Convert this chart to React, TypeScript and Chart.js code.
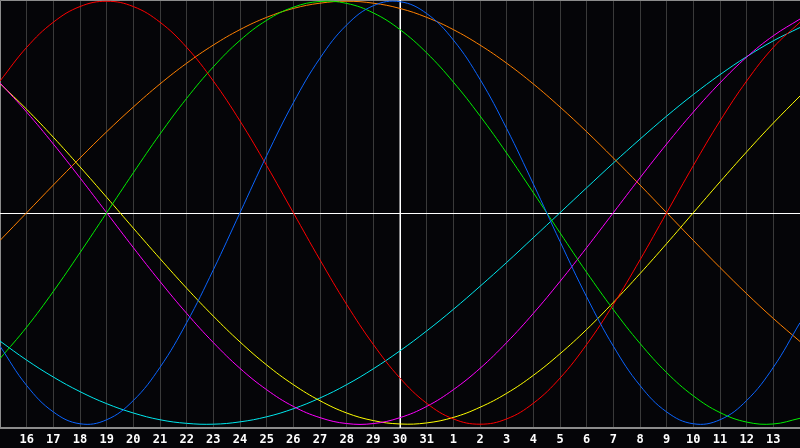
import React, { useEffect, useRef } from "react";
import { Chart, registerables } from "chart.js";

Chart.register(...registerables);

const dayLabels = [
  "15", "16", "17", "18", "19", "20", "21", "22", "23", "24", "25", "26", "27", "28", "29", "30", "31",
  "1", "2", "3", "4", "5", "6", "7", "8", "9", "10", "11", "12", "13", "14",
];

// cycle values (-1 .. 1)
const blue23 = [
  -0.631, -0.817, -0.942, -0.998, -0.979, -0.888, -0.731, -0.52, -0.27, 0, 0.27, 0.52, 0.731, 0.888, 0.979,
  0.998, 0.942, 0.817, 0.631, 0.398, 0.136, -0.136, -0.398, -0.631, -0.817, -0.942, -0.998, -0.979, -0.888,
  -0.731, -0.52,
];
const red28 = [
  0.623, 0.782, 0.901, 0.975, 1.0, 0.975, 0.901, 0.782, 0.623, 0.434, 0.223, 0, -0.223, -0.434, -0.623, -0.782,
  -0.901, -0.975, -1.0, -0.975, -0.901, -0.782, -0.623, -0.434, -0.223, 0, 0.223, 0.434, 0.623, 0.782, 0.901,
];
const green33 = [
  -0.69, -0.541, -0.372, -0.189, 0, 0.189, 0.372, 0.541, 0.69, 0.815, 0.91, 0.972, 0.999, 0.99, 0.945, 0.866,
  0.756, 0.618, 0.458, 0.282, 0.095, -0.095, -0.282, -0.458, -0.618, -0.756, -0.866, -0.945, -0.99, -0.999,
  -0.972,
];
const magenta38 = [
  0.614, 0.476, 0.325, 0.165, 0, -0.165, -0.325, -0.476, -0.614, -0.736, -0.837, -0.916, -0.969, -0.997, -0.997,
  -0.969, -0.916, -0.837, -0.736, -0.614, -0.476, -0.325, -0.165, 0, 0.165, 0.325, 0.476, 0.614, 0.736, 0.837,
  0.916,
];
const yellow43 = [
  0.611, 0.489, 0.357, 0.217, 0.073, -0.073, -0.217, -0.357, -0.489, -0.611, -0.72, -0.813, -0.889, -0.947,
  -0.983, -0.999, -0.994, -0.968, -0.92, -0.854, -0.769, -0.667, -0.552, -0.424, -0.288, -0.146, 0, 0.146, 0.288,
  0.424, 0.552,
];
const orange48 = [
  -0.131, 0, 0.131, 0.259, 0.383, 0.5, 0.609, 0.707, 0.793, 0.866, 0.924, 0.966, 0.991, 1.0, 0.991, 0.966, 0.924,
  0.866, 0.793, 0.707, 0.609, 0.5, 0.383, 0.259, 0.131, 0, -0.131, -0.259, -0.383, -0.5, -0.609,
];
const cyan53 = [
  -0.607, -0.697, -0.777, -0.846, -0.903, -0.947, -0.979, -0.996, -1.0, -0.989, -0.965, -0.927, -0.876, -0.813,
  -0.738, -0.653, -0.559, -0.457, -0.348, -0.235, -0.118, 0, 0.118, 0.235, 0.348, 0.457, 0.559, 0.653, 0.738,
  0.813, 0.876,
];

const todayIndex = 15;

const series = [
  { label: "23", data: blue23, color: "#0a64ff" },
  { label: "28", data: red28, color: "#ff0000" },
  { label: "33", data: green33, color: "#00ee00" },
  { label: "38", data: magenta38, color: "#ff00ff" },
  { label: "43", data: yellow43, color: "#ffff00" },
  { label: "48", data: orange48, color: "#ff8000" },
  { label: "53", data: cyan53, color: "#00e8ee" },
];

const framePlugin = {
  id: "frame",
  beforeDraw(chart: any) {
    const { ctx, width, height } = chart;
    ctx.save();
    ctx.fillStyle = "#050508";
    ctx.fillRect(0, 0, width, height);
    ctx.restore();
  },
  beforeDatasetsDraw(chart: any) {
    const { ctx, chartArea } = chart;
    const xs = chart.scales.x;
    const ys = chart.scales.y;
    ctx.save();
    ctx.strokeStyle = "#8c8c8c";
    ctx.lineWidth = 1;
    ctx.beginPath();
    ctx.moveTo(chartArea.left + 0.5, chartArea.bottom);
    ctx.lineTo(chartArea.left + 0.5, chartArea.top + 0.5);
    ctx.lineTo(chartArea.right, chartArea.top + 0.5);
    ctx.stroke();
    ctx.strokeStyle = "#ffffff";
    ctx.lineWidth = 1.5;
    const cx = Math.round(xs.getPixelForValue(todayIndex)) + 0.25;
    const cy = Math.round(ys.getPixelForValue(0)) + 0.5;
    ctx.beginPath();
    ctx.moveTo(cx, chartArea.top);
    ctx.lineTo(cx, chartArea.bottom);
    ctx.stroke();
    ctx.lineWidth = 1;
    ctx.beginPath();
    ctx.moveTo(chartArea.left, cy);
    ctx.lineTo(chartArea.right, cy);
    ctx.stroke();
    ctx.restore();
  },
};

export default function App() {
  const canvasRef = useRef<HTMLCanvasElement | null>(null);

  useEffect(() => {
    document.body.style.margin = "0";
    document.body.style.background = "#050508";
    if (!canvasRef.current) return;
    const chart = new Chart(canvasRef.current, {
      type: "line",
      data: {
        labels: dayLabels,
        datasets: series.map((s) => ({
          label: s.label,
          data: s.data,
          borderColor: s.color,
          borderWidth: 1,
          pointRadius: 0,
          pointHoverRadius: 0,
          tension: 0.4,
          fill: false,
        })),
      },
      options: {
        animation: false,
        responsive: true,
        maintainAspectRatio: false,
        layout: { padding: 0, autoPadding: false },
        plugins: { legend: { display: false }, tooltip: { enabled: false } },
        scales: {
          x: {
            type: "category",
            offset: false,
            afterFit: (scale: any) => {
              scale.height = 20;
              scale.paddingLeft = 0;
              scale.paddingRight = 0;
            },
            grid: { color: "#3a3a3a", lineWidth: 1, drawTicks: false },
            border: { color: "#8c8c8c", width: 2 },
            ticks: {
              autoSkip: false,
              maxRotation: 0,
              minRotation: 0,
              padding: 5,
              color: "#ffffff",
              font: { family: "'DejaVu Sans Mono', monospace", size: 12, weight: "bold" },
              callback: (_v: any, i: number) => (i === 0 || i === dayLabels.length - 1 ? "" : dayLabels[i]),
            },
          },
          y: {
            display: false,
            min: -1.018,
            max: 1.006,
          },
        },
      },
      plugins: [framePlugin],
    });
    return () => chart.destroy();
  }, []);

  return (
    <div style={{ width: 800, height: 448, position: "relative", background: "#050508" }}>
      <canvas ref={canvasRef} />
    </div>
  );
}
